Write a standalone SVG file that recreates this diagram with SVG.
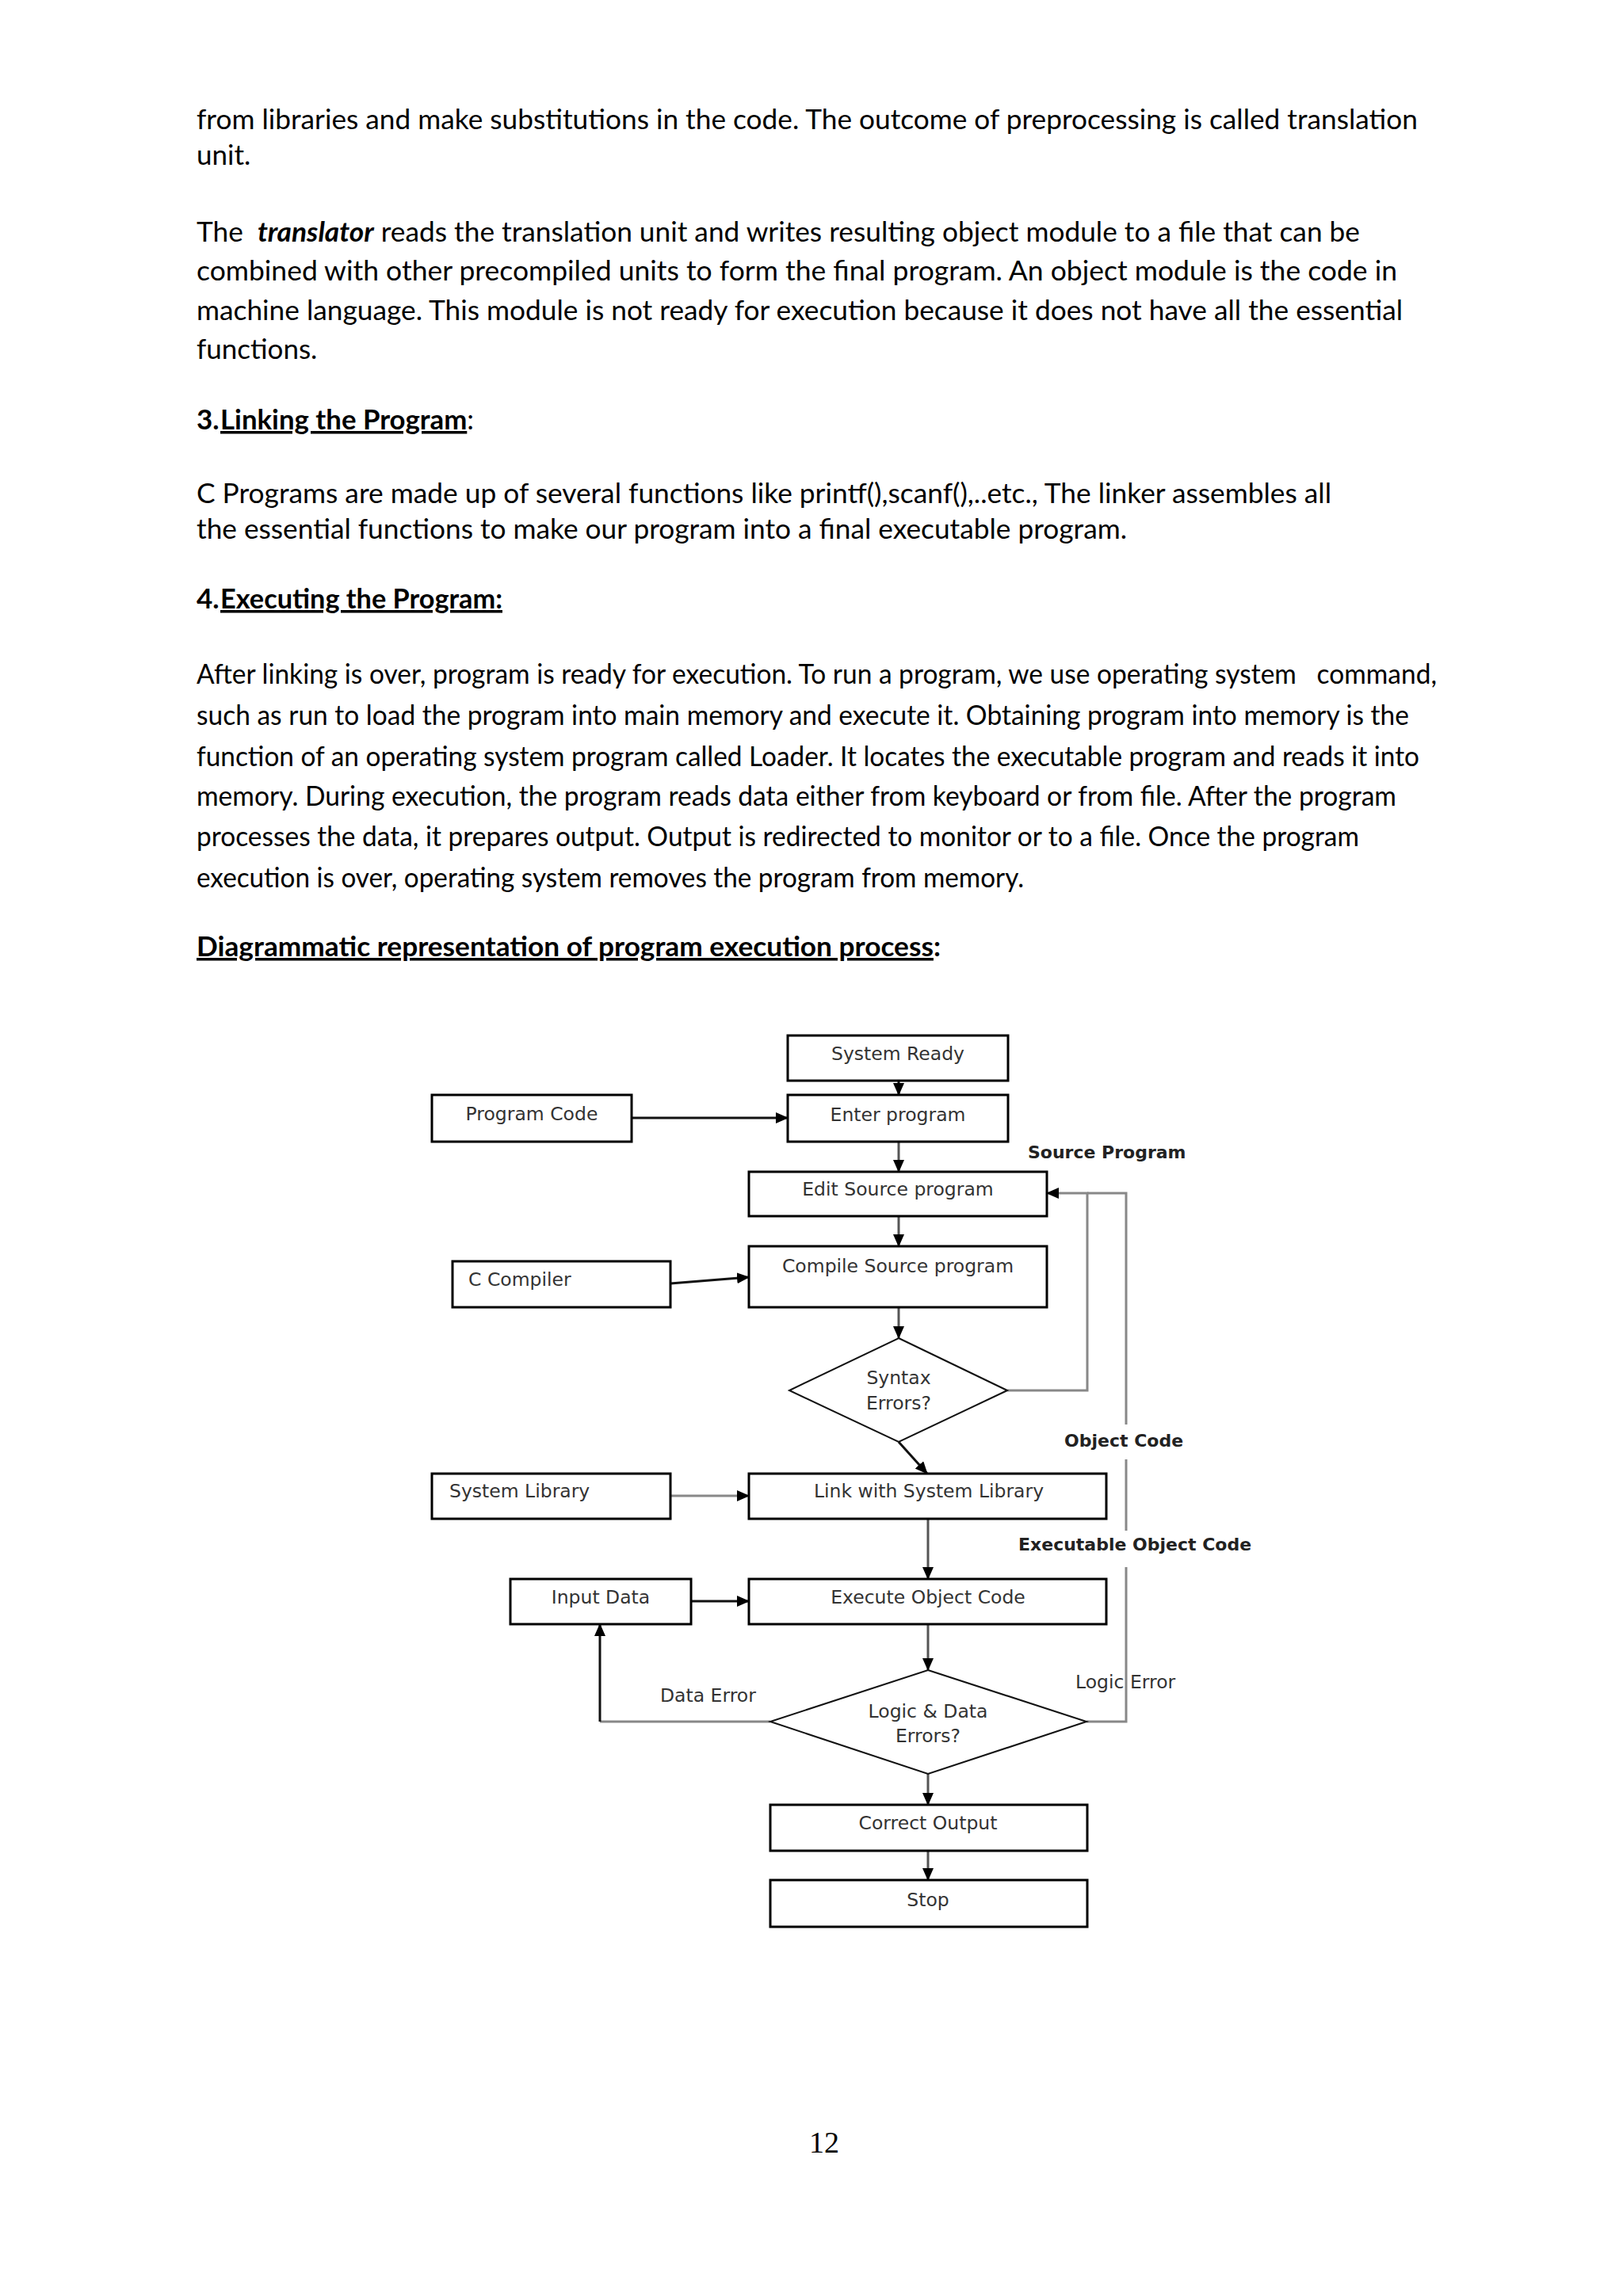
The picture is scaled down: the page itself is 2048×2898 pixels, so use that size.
<svg xmlns="http://www.w3.org/2000/svg" width="2048" height="2898" viewBox="0 0 2048 2898">
<style>
.body{font-family:Lato,"Open Sans","Liberation Sans",sans-serif;font-size:35px;fill:#000;white-space:pre}
.b{font-weight:bold}
.u{text-decoration:underline}
.pg{font-family:"Liberation Serif","Times New Roman",serif;font-size:38px;fill:#000}
.box{fill:#fff;stroke:#000;stroke-width:3}
.dia{fill:#fff;stroke:#111;stroke-width:2}
.nt{font-family:"DejaVu Sans",Verdana,sans-serif;font-size:23.5px;fill:#333}
.lbl{font-family:"DejaVu Sans",Verdana,sans-serif;font-size:22px;font-weight:bold;fill:#222}
.lr{font-family:"DejaVu Sans",Verdana,sans-serif;font-size:23.5px;fill:#333}
.c{fill:none;stroke:#555;stroke-width:3}
.cg{fill:none;stroke:#888;stroke-width:3}
.ck{fill:none;stroke:#111;stroke-width:3}
</style>
<defs>
<marker id="ah" markerUnits="userSpaceOnUse" markerWidth="16" markerHeight="14" refX="15" refY="7" orient="auto">
<path d="M0,0 L16,7 L0,14 Z" fill="#000"/>
</marker>
</defs>
<rect width="2048" height="2898" fill="#fff"/>

<g id="text">
<text class="body" x="248" y="163" textLength="1541" lengthAdjust="spacingAndGlyphs">from libraries and make substitutions in the code. The outcome of preprocessing is called translation</text>
<text class="body" x="248" y="208">unit.</text>
<text class="body" x="248" y="305" textLength="1468" lengthAdjust="spacingAndGlyphs">The  <tspan class="b" font-style="italic">translator</tspan> reads the translation unit and writes resulting object module to a file that can be</text>
<text class="body" x="248" y="354" textLength="1515" lengthAdjust="spacingAndGlyphs">combined with other precompiled units to form the final program. An object module is the code in</text>
<text class="body" x="248" y="404" textLength="1522" lengthAdjust="spacingAndGlyphs">machine language. This module is not ready for execution because it does not have all the essential</text>
<text class="body" x="248" y="453">functions.</text>
<text class="body b" x="248" y="542">3.</text>
<text class="body" x="278" y="542" textLength="320" lengthAdjust="spacingAndGlyphs"><tspan class="b u">Linking the Program</tspan>:</text>
<text class="body" x="248" y="635" textLength="1432" lengthAdjust="spacingAndGlyphs">C Programs are made up of several functions like printf(),scanf(),..etc., The linker assembles all</text>
<text class="body" x="248" y="680" textLength="1174" lengthAdjust="spacingAndGlyphs">the essential functions to make our program into a final executable program.</text>
<text class="body b" x="248" y="768">4.</text>
<text class="body b u" x="278" y="768" textLength="356" lengthAdjust="spacingAndGlyphs">Executing the Program:</text>
<text class="body" x="248" y="863" textLength="1565" lengthAdjust="spacingAndGlyphs">After linking is over, program is ready for execution. To run a program, we use operating system   command,</text>
<text class="body" x="248" y="915" textLength="1530" lengthAdjust="spacingAndGlyphs">such as run to load the program into main memory and execute it. Obtaining program into memory is the</text>
<text class="body" x="248" y="967" textLength="1543" lengthAdjust="spacingAndGlyphs">function of an operating system program called Loader. It locates the executable program and reads it into</text>
<text class="body" x="248" y="1017" textLength="1514" lengthAdjust="spacingAndGlyphs">memory. During execution, the program reads data either from keyboard or from file. After the program</text>
<text class="body" x="248" y="1068" textLength="1467" lengthAdjust="spacingAndGlyphs">processes the data, it prepares output. Output is redirected to monitor or to a file. Once the program</text>
<text class="body" x="248" y="1120" textLength="1044" lengthAdjust="spacingAndGlyphs">execution is over, operating system removes the program from memory.</text>
<text class="body b" x="248" y="1207" textLength="939" lengthAdjust="spacingAndGlyphs"><tspan class="u">Diagrammatic representation of program execution process</tspan>:</text>
<text class="pg" x="1040" y="2717" text-anchor="middle">12</text>
</g>

<g id="connectors">
<line class="ck" x1="1134" y1="1364" x2="1134" y2="1382" marker-end="url(#ah)"/>
<line class="ck" x1="797" y1="1411" x2="994" y2="1411" marker-end="url(#ah)"/>
<line class="c" x1="1134" y1="1441" x2="1134" y2="1479" marker-end="url(#ah)"/>
<line class="c" x1="1134" y1="1535" x2="1134" y2="1573" marker-end="url(#ah)"/>
<line class="ck" x1="846" y1="1620" x2="945" y2="1612" marker-end="url(#ah)"/>
<line class="c" x1="1134" y1="1650" x2="1134" y2="1689" marker-end="url(#ah)"/>
<polyline class="cg" points="1271,1755 1372,1755 1372,1506 1321,1506" marker-end="url(#ah)"/>
<polyline class="cg" points="1421,1798 1421,1506 1372,1506"/>
<line class="cg" x1="1421" y1="1842" x2="1421" y2="1932"/>
<polyline class="cg" points="1421,1978 1421,2173 1371,2173"/>
<line class="ck" x1="1134" y1="1820" x2="1170" y2="1860" marker-end="url(#ah)"/>
<line class="cg" x1="846" y1="1888" x2="945" y2="1888" marker-end="url(#ah)"/>
<line class="c" x1="1171" y1="1917" x2="1171" y2="1993" marker-end="url(#ah)"/>
<line class="ck" x1="872" y1="2021" x2="945" y2="2021" marker-end="url(#ah)"/>
<line class="c" x1="1171" y1="2050" x2="1171" y2="2108" marker-end="url(#ah)"/>
<polyline class="cg" points="972,2173 757,2173"/>
<line class="ck" x1="757" y1="2173" x2="757" y2="2050" marker-end="url(#ah)"/>
<line class="c" x1="1171" y1="2239" x2="1171" y2="2278" marker-end="url(#ah)"/>
<line class="c" x1="1171" y1="2336" x2="1171" y2="2373" marker-end="url(#ah)"/>
<text class="lbl" x="1297" y="1462">Source Program</text>
<text class="lbl" x="1343" y="1826">Object Code</text>
<text class="lbl" x="1285" y="1957">Executable Object Code</text>
<text class="lr" x="1357" y="2131">Logic Error</text>
<text class="lr" x="833" y="2148">Data Error</text>
</g>

<g id="n-system-ready"><rect class="box" x="994" y="1307" width="278" height="57"/><text class="nt" x="1133" y="1338" text-anchor="middle">System Ready</text></g>
<g id="n-program-code"><rect class="box" x="545" y="1382" width="252" height="59"/><text class="nt" x="671" y="1414" text-anchor="middle">Program Code</text></g>
<g id="n-enter-program"><rect class="box" x="994" y="1382" width="278" height="59"/><text class="nt" x="1133" y="1415" text-anchor="middle">Enter program</text></g>
<g id="n-edit-source"><rect class="box" x="945" y="1479" width="376" height="56"/><text class="nt" x="1133" y="1509" text-anchor="middle">Edit Source program</text></g>
<g id="n-compile-source"><rect class="box" x="945" y="1573" width="376" height="77"/><text class="nt" x="1133" y="1606" text-anchor="middle">Compile Source program</text></g>
<g id="n-c-compiler"><rect class="box" x="571" y="1592" width="275" height="58"/><text class="nt" x="591" y="1623">C Compiler</text></g>
<g id="n-syntax-errors"><polygon class="dia" points="1134,1689 1271,1755 1134,1820 996,1755"/><text class="nt" x="1134" y="1747" text-anchor="middle">Syntax</text><text class="nt" x="1134" y="1779" text-anchor="middle">Errors?</text></g>
<g id="n-system-library"><rect class="box" x="545" y="1860" width="301" height="57"/><text class="nt" x="567" y="1890">System Library</text></g>
<g id="n-link"><rect class="box" x="945" y="1860" width="451" height="57"/><text class="nt" x="1172" y="1890" text-anchor="middle">Link with System Library</text></g>
<g id="n-input-data"><rect class="box" x="644" y="1993" width="228" height="57"/><text class="nt" x="758" y="2024" text-anchor="middle">Input Data</text></g>
<g id="n-execute"><rect class="box" x="945" y="1993" width="451" height="57"/><text class="nt" x="1171" y="2024" text-anchor="middle">Execute Object Code</text></g>
<g id="n-logic-data"><polygon class="dia" points="1171,2108 1371,2173 1171,2239 972,2173"/><text class="nt" x="1171" y="2168" text-anchor="middle">Logic &amp; Data</text><text class="nt" x="1171" y="2199" text-anchor="middle">Errors?</text></g>
<g id="n-correct-output"><rect class="box" x="972" y="2278" width="400" height="58"/><text class="nt" x="1171" y="2309" text-anchor="middle">Correct Output</text></g>
<g id="n-stop"><rect class="box" x="972" y="2373" width="400" height="59"/><text class="nt" x="1171" y="2406" text-anchor="middle">Stop</text></g>
</svg>
